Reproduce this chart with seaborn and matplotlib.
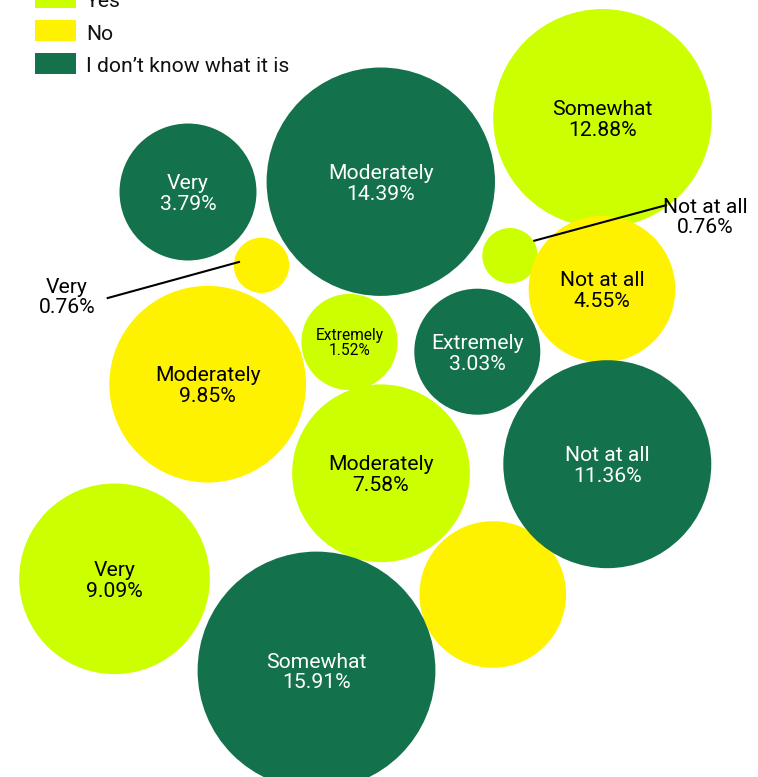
import numpy as np
import pandas as pd
import matplotlib
matplotlib.use("Agg")
import matplotlib.pyplot as plt
import seaborn as sns

# ---------------- data ----------------
series_names = ["Yes", "No", "I don\u2019t know what it is"]
series_colors = ["#CCFF00", "#FFF200", "#13714C"]

yes_labels = ["Somewhat", "Not at all", "Extremely", "Moderately", "Very"]
yes_values = [12.88, 0.76, 1.52, 7.58, 9.09]

no_labels = ["Very", "Moderately", "Not at all", "Somewhat"]
no_values = [0.76, 9.85, 4.55, 4.55]

idk_labels = ["Very", "Moderately", "Extremely", "Not at all", "Somewhat"]
idk_values = [3.79, 14.39, 3.03, 11.36, 15.91]

# ---------------- layout (packed-bubble positions, pixels) ----------------
yes_pos = [(602.5, 118.3), (510.0, 255.7), (349.5, 342.0), (381.0, 473.3), (114.5, 578.8)]
no_pos = [(261.5, 265.3), (207.7, 384.2), (602.0, 289.3), (492.8, 594.5)]
idk_pos = [(188.0, 192.0), (380.8, 181.7), (477.3, 351.7), (607.3, 464.2), (316.5, 670.5)]

# label mode per bubble: "in", "small", "out", "none"
yes_mode = ["in", "out", "small", "in", "in"]
no_mode = ["out", "in", "in", "none"]
idk_mode = ["in", "in", "in", "in", "in"]

# outside label placement: (text x, first baseline y, line start, line end)
outside = {
    ("Yes", "Not at all"): (705.0, 212.7, (533.3, 241.0), (666.7, 205.0)),
    ("No", "Very"): (67.0, 293.3, (240.0, 261.7), (106.7, 298.3)),
}

MIN_D, MAX_D = 55.4, 237.8  # bubble diameter range in px (Highcharts-like sqrt scale)
W, H, DPI = 758, 777, 100

rows = []
for name, labels, values, pos, mode in [
    (series_names[0], yes_labels, yes_values, yes_pos, yes_mode),
    (series_names[1], no_labels, no_values, no_pos, no_mode),
    (series_names[2], idk_labels, idk_values, idk_pos, idk_mode),
]:
    for lab, val, (px, py), m in zip(labels, values, pos, mode):
        rows.append(dict(series=name, label=lab, value=val, px=px, py=py, mode=m))
df = pd.DataFrame(rows)

vmin, vmax = df["value"].min(), df["value"].max()
df["diam"] = MIN_D + np.sqrt((df["value"] - vmin) / (vmax - vmin)) * (MAX_D - MIN_D)
df["area"] = (df["diam"] * 72.0 / DPI) ** 2  # marker area in pt^2

# ---------------- figure ----------------
sns.set_theme(style="white")
plt.rcParams["font.family"] = ["Roboto", "DejaVu Sans"]

fig = plt.figure(figsize=(W / DPI, H / DPI), dpi=DPI)
ax = fig.add_axes([0, 0, 1, 1])

palette = dict(zip(series_names, series_colors))
amin, amax = df["area"].min(), df["area"].max()
sns.scatterplot(
    data=df, x="px", y="py", hue="series", palette=palette,
    size="area", sizes=(amin, amax), size_norm=(amin, amax),
    linewidth=0, edgecolor="none", legend=False, ax=ax, zorder=2,
)
ax.set_xlim(0, W)
ax.set_ylim(H, 0)
ax.axis("off")

FS = 15.2       # ~21 px
FS_SMALL = 11.2  # ~15.5 px
for _, r in df.iterrows():
    tc = "white" if r["series"] == series_names[2] else "black"
    pct = f"{r['value']:.2f}%"
    if r["mode"] == "in":
        ax.text(r["px"], r["py"] - 3, r["label"], ha="center", va="baseline",
                fontsize=FS, color=tc, zorder=3)
        ax.text(r["px"], r["py"] + 18, pct, ha="center", va="baseline",
                fontsize=FS, color=tc, zorder=3)
    elif r["mode"] == "small":
        ax.text(r["px"], r["py"] - 2, r["label"], ha="center", va="baseline",
                fontsize=FS_SMALL, color=tc, zorder=3)
        ax.text(r["px"], r["py"] + 13, pct, ha="center", va="baseline",
                fontsize=FS_SMALL, color=tc, zorder=3)
    elif r["mode"] == "out":
        tx, ty, p0, p1 = outside[(r["series"], r["label"])]
        ax.plot([p0[0], p1[0]], [p0[1], p1[1]], color="black", lw=1.5, zorder=4,
                solid_capstyle="butt")
        ax.text(tx, ty, r["label"], ha="center", va="baseline",
                fontsize=FS, color="black", zorder=5)
        ax.text(tx, ty + 20, pct, ha="center", va="baseline",
                fontsize=FS, color="black", zorder=5)

# ---------------- legend (top-left, partly cut off as in the reference) ----------------
leg_top = -12.7
for i, (name, col) in enumerate(zip(series_names, series_colors)):
    y0 = leg_top + i * 32.7
    ax.add_patch(plt.Rectangle((35, y0), 41, 21, facecolor=col, edgecolor="none",
                               zorder=6, clip_on=False))
    ax.text(86, y0 + 19.5, name, ha="left", va="baseline", fontsize=FS,
            color="#111111", zorder=6)

fig.savefig("out.png", dpi=DPI)
